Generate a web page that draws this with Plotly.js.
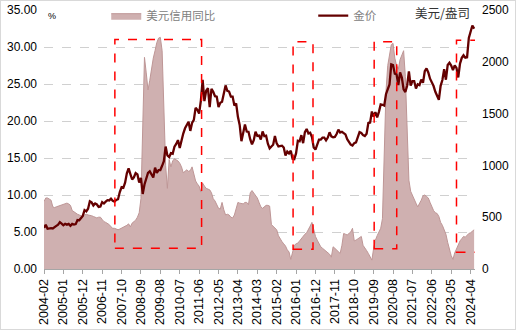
<!DOCTYPE html>
<html>
<head>
<meta charset="utf-8">
<script src="https://cdn.plot.ly/plotly-3.0.1.min.js"></script>
<style>
html,body{margin:0;padding:0;background:#fff;}
#wrap{position:relative;width:516px;height:330px;}
#chart{width:516px;height:330px;}
#frame{position:absolute;left:0;top:0;width:516px;height:330px;box-sizing:border-box;border:1px solid #d9d9d9;pointer-events:none;}
</style>
</head>
<body>
<div id="wrap"><div id="chart"></div><div id="frame"></div></div>
<script>
// Monthly categories 2004-02 .. 2024-06
const startYear = 2004, startMonth = 2, monthCount = 245;
const months = [];
for (let i = 0; i < monthCount; i++) {
  const m = startMonth - 1 + i;
  const y = startYear + Math.floor(m / 12);
  const mm = (m % 12) + 1;
  months.push(y + '-' + (mm < 10 ? '0' + mm : '' + mm));
}

// X-axis tick labels
const tickLabels = ['2004-02','2005-01','2005-12','2006-11','2007-10','2008-09','2009-08','2010-07',
  '2011-06','2012-05','2013-04','2014-03','2015-02','2016-01','2016-12','2017-11','2018-10',
  '2019-09','2020-08','2021-07','2022-06','2023-05','2024-04'];

// 美元信用同比 (%), monthly
const creditYoY = [
  9.1,9.6,9.6,9.5,9.3,8.4,8.3,8.4,8.5,8.6,8.6,
  8.7,8.8,8.9,8.8,8.6,7.9,7.7,7.6,7.4,7.3,7.2,7.1,
  7.3,7.4,7.3,7.3,7.2,7.1,7.0,6.9,7.0,7.0,6.7,6.4,
  6.3,6.2,6.0,5.7,5.5,5.5,5.4,5.3,5.4,5.5,5.7,5.8,
  5.9,6.1,5.7,6.2,6.4,6.6,7.0,7.6,9.5,19.5,28.6,26.5,
  24.2,25.5,27.3,28.5,29.5,30.6,31.2,31.3,29.5,22.0,14.0,10.9,
  14.8,13.8,14.6,14.9,14.8,14.6,14.3,13.8,13.0,13.2,13.4,13.2,
  13.3,13.8,12.8,11.9,11.5,11.2,10.4,11.6,11.2,10.9,10.8,10.7,
  10.3,9.5,9.2,8.7,8.2,8.1,9.0,8.0,7.3,7.4,7.3,7.0,
  6.9,7.3,8.2,9.0,8.9,8.9,8.8,9.0,9.0,8.7,10.3,10.6,
  10.3,10.0,9.6,9.0,8.4,8.2,8.4,8.6,8.6,8.5,6.0,5.8,
  5.5,5.3,4.5,4.0,3.7,3.4,3.1,2.6,2.3,1.3,2.5,3.2,
  3.4,3.5,3.8,4.1,4.5,4.7,4.9,5.3,5.8,6.3,5.4,4.4,
  3.9,3.5,3.0,2.8,2.6,2.4,2.2,2.0,1.6,3.0,2.8,2.6,
  2.3,2.1,3.2,4.8,4.7,4.6,4.8,5.0,5.5,3.8,3.9,4.1,
  4.2,4.4,3.2,2.9,2.5,2.1,1.6,1.2,2.8,3.9,4.5,5.1,
  5.5,6.8,14.0,24.0,27.5,29.0,30.3,30.5,28.5,27.5,27.0,28.3,
  29.0,29.5,26.0,18.0,12.0,10.5,9.9,9.5,8.9,8.4,8.8,9.3,
  9.9,10.0,9.8,9.6,9.0,8.4,7.9,7.6,7.5,7.1,6.3,5.9,
  5.2,4.7,3.6,2.6,1.8,1.3,2.2,2.7,3.4,3.8,4.1,4.4,
  4.3,4.6,4.8,4.9,5.1,5.3
];

// 金价 (美元/盎司), monthly
const goldPrice = [
  397,427,388,393,395,391,408,416,428,452,438,
  422,435,428,435,417,435,429,433,473,470,495,513,
  568,556,582,654,643,613,633,623,599,604,646,632,
  650,665,662,679,659,650,666,673,743,789,783,834,
  923,972,916,864,885,926,913,834,880,724,816,870,
  927,942,916,883,979,927,955,955,996,1040,1182,1096,
  1081,1118,1113,1180,1207,1244,1169,1246,1307,1358,1384,1421,
  1333,1410,1439,1556,1536,1500,1628,1826,1620,1722,1746,1563,
  1740,1711,1668,1664,1562,1604,1614,1688,1772,1719,1713,1664,
  1664,1579,1598,1469,1391,1234,1313,1394,1327,1324,1250,1204,
  1244,1326,1284,1288,1250,1327,1282,1287,1210,1164,1183,1199,
  1283,1212,1183,1184,1190,1172,1095,1133,1115,1142,1065,1061,
  1118,1238,1233,1292,1215,1321,1351,1309,1316,1273,1173,1152,
  1211,1249,1249,1268,1268,1242,1269,1320,1280,1271,1275,1303,
  1345,1318,1325,1315,1299,1253,1224,1201,1192,1215,1222,1282,
  1321,1313,1292,1284,1305,1409,1413,1520,1472,1513,1464,1517,
  1589,1585,1577,1687,1730,1781,1975,1968,1886,1879,1776,1898,
  1848,1734,1708,1769,1907,1770,1814,1814,1743,1783,1775,1829,
  1797,1909,1937,1897,1837,1807,1766,1711,1661,1633,1768,1824,
  1928,1827,1969,1990,1963,1919,1965,1940,1849,1983,2038,2063,
  2040,2044,2230,2286,2350,2320
];

const seriesNames = ['美元信用同比', '金价'];

const traces = [
  {
    x: months, y: creditYoY, name: seriesNames[0], type: 'scatter', mode: 'lines',
    fill: 'tozeroy', fillcolor: 'rgb(207,176,176)',
    line: {color: 'rgb(190,150,150)', width: 1}, yaxis: 'y', hoverinfo: 'skip'
  },
  {
    x: months, y: goldPrice, name: seriesNames[1], type: 'scatter', mode: 'lines',
    line: {color: 'rgb(100,0,0)', width: 2.3}, yaxis: 'y2', hoverinfo: 'skip'
  }
];

const redBox = (x0, x1, y0, y1) => ({
  type: 'rect', xref: 'x', yref: 'y', x0: x0, x1: x1, y0: y0, y1: y1,
  line: {color: '#ff0000', width: 1.5, dash: 'dash'}, fillcolor: 'rgba(0,0,0,0)', layer: 'above'
});

const layout = {
  width: 516, height: 330,
  margin: {l: 44, r: 41, t: 10, b: 61, autoexpand: false},
  paper_bgcolor: '#ffffff', plot_bgcolor: '#ffffff',
  font: {family: 'Liberation Sans, Arial, sans-serif', size: 12, color: '#000'},
  showlegend: true,
  legend: {
    orientation: 'h', x: 0.1444, y: 0.978, xanchor: 'left', yanchor: 'middle',
    bgcolor: 'rgba(0,0,0,0)', borderwidth: 0,
    font: {family: 'Noto Sans CJK SC', size: 11.5, color: '#808080'},
    entrywidth: 162, entrywidthmode: 'pixels', itemwidth: 30
  },
  xaxis: {
    type: 'category', range: [0, 244.5],
    tickmode: 'array', tickvals: tickLabels, ticktext: tickLabels,
    tickangle: -90, ticks: 'outside', ticklen: 4, tickcolor: '#a6a6a6',
    showline: true, linecolor: '#a6a6a6', linewidth: 1,
    showgrid: false, zeroline: false,
    tickfont: {size: 12.5, color: '#000'}
  },
  yaxis: {
    range: [0, 35], dtick: 5, tickformat: '.2f',
    showgrid: true, gridcolor: '#d0d0d0', griddash: 'dash', gridwidth: 1,
    zeroline: false, showline: false, ticks: '', ticklabelstandoff: 6,
    tickfont: {size: 12, color: '#000'}
  },
  yaxis2: {
    overlaying: 'y', side: 'right', range: [0, 2500], dtick: 500,
    showgrid: false, zeroline: false, showline: false, ticks: '', ticklabelstandoff: 6,
    tickfont: {size: 12, color: '#000'}
  },
  shapes: [
    redBox(40.2, 89.4, 2.8, 31.0),
    redBox(141.3, 152.6, 2.66, 30.7),
    redBox(187.3, 200.1, 2.75, 30.7),
    redBox(234.0, 246.7, 2.25, 30.9)
  ],
  annotations: [
    {text: '%', xref: 'paper', yref: 'paper', x: 0.0, y: 0.975, xanchor: 'left', yanchor: 'middle',
     xshift: 2, showarrow: false, font: {size: 9, color: '#000'}},
    {text: '美元/盎司', xref: 'paper', yref: 'paper', x: 1.0, y: 0.99, xanchor: 'right', yanchor: 'middle',
     xshift: -3, showarrow: false, font: {family: 'Noto Sans CJK SC', size: 12.5, color: '#333'}}
  ]
};

Plotly.newPlot('chart', traces, layout, {staticPlot: true, displayModeBar: false});
</script>
</body>
</html>
